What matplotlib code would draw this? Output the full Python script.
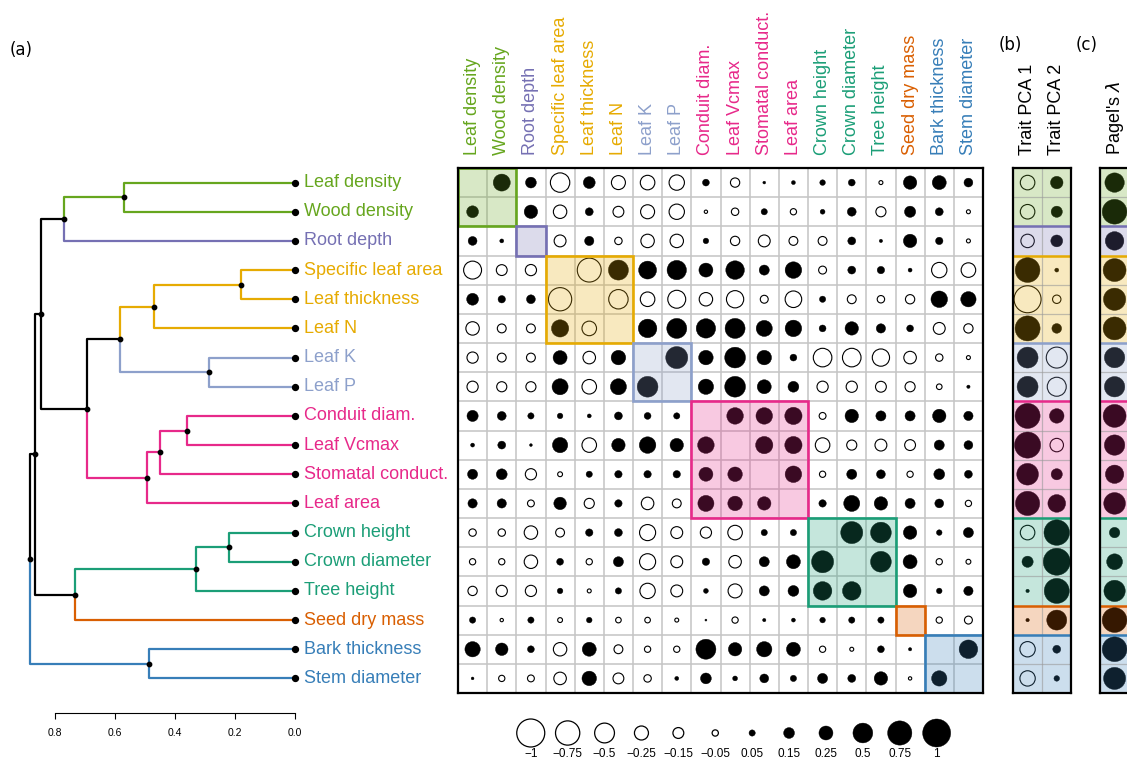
import numpy as np
import matplotlib
matplotlib.use("Agg")
import matplotlib.pyplot as plt
from matplotlib.patches import Circle, Rectangle
from matplotlib.colors import to_rgb

plt.rcParams['font.family'] = ['Liberation Sans', 'DejaVu Sans']

traits = ["Leaf density", "Wood density", "Root depth", "Specific leaf area",
          "Leaf thickness", "Leaf N", "Leaf K", "Leaf P", "Conduit diam.",
          "Leaf Vcmax", "Stomatal conduct.", "Leaf area", "Crown height",
          "Crown diameter", "Tree height", "Seed dry mass", "Bark thickness",
          "Stem diameter"]
groups = [0, 0, 1, 2, 2, 2, 3, 3, 4, 4, 4, 4, 5, 5, 5, 6, 7, 7]
group_colors = ['#66a61e', '#7570b3', '#e6ab02', '#8da0cb',
                '#e7298a', '#1b9e77', '#d95f02', '#377eb8']

nan = np.nan
corr = np.array([
    [nan, .37, .15, -.48, .18, -.25, -.27, -.30, .06, -.11, .01, .02, .04, .06, -.02, .23, .25, .10],
    [.18, nan, .23, -.23, .08, -.15, -.25, -.30, -.014, -.07, .05, -.05, .03, .10, -.13, .16, .08, -.02],
    [.10, .02, nan, -.18, .11, -.07, -.23, -.23, .04, -.11, -.18, -.10, -.10, .08, .014, .23, .07, -.02],
    [-.41, -.15, -.16, nan, -.73, .51, .41, .48, .25, .44, .13, .35, -.08, .08, .07, .02, -.30, -.27],
    [.18, .07, .10, -.69, nan, -.48, -.27, -.41, -.23, -.38, -.08, -.35, .05, -.10, -.07, -.11, .35, .30],
    [-.23, -.10, -.10, .38, -.27, nan, .44, .51, .48, .51, .33, .35, .06, .23, .11, .06, -.18, -.11],
    [-.16, -.10, -.10, .25, -.20, .27, nan, .62, .27, .55, .27, .06, -.44, -.44, -.38, -.20, -.07, -.02],
    [-.16, -.13, -.13, .33, -.27, .33, .55, nan, .30, .55, .25, .15, -.16, -.16, -.15, -.13, -.04, .014],
    [.16, .10, .05, .04, .02, .08, .06, .05, nan, .35, .35, .38, -.06, .23, .13, .13, .23, .11],
    [.02, .08, .01, .30, -.27, .23, .35, .23, .35, nan, .38, .38, -.27, -.13, -.18, -.15, .13, .10],
    [.13, .15, -.16, -.03, .05, .07, .07, .07, .25, .27, nan, .35, -.05, .13, .10, -.05, .15, .08],
    [.11, .11, -.06, .20, -.13, .07, -.20, -.10, .33, .27, .23, nan, .07, .33, .23, .13, .10, -.05],
    [-.07, -.07, -.23, -.10, .07, .08, -.33, -.18, -.16, -.27, .05, .05, nan, .62, .55, .23, .04, .13],
    [-.05, -.05, -.23, .06, -.05, .13, -.33, -.18, .07, -.20, .13, .25, .62, nan, .55, .25, -.05, -.03],
    [-.11, -.16, -.16, .04, -.02, .05, -.30, -.18, .03, -.25, .13, .15, .44, .44, nan, .23, .04, .11],
    [.05, -.014, .05, -.03, .04, -.04, -.04, -.02, .005, -.05, .014, .02, .04, .05, .05, nan, -.05, -.08],
    [.30, .20, .06, -.23, .25, -.10, -.05, -.05, .51, .23, .30, .25, -.05, -.02, .06, .014, nan, .44],
    [.01, -.05, -.06, -.20, .27, -.15, -.07, .02, .15, .03, .10, .05, .13, .08, .23, -.014, .30, nan],
])

pca1 = [-.27, -.27, -.23, .78, -.93, .80, .56, .56, .80, .87, .60, .75, -.27, .16, .015, .015, -.30, -.30]
pca2 = [.20, .16, .18, .02, -.09, .12, -.56, -.46, .27, -.23, .16, .40, .83, .93, .80, .51, .08, .04]
pagel = [.48, .78, .44, .67, .63, .67, .53, .53, .67, .53, .43, .60, .14, .32, .58, .78, .78, .62]

legend_vals = [-1, -0.75, -0.5, -0.25, -0.15, -0.05, 0.05, 0.15, 0.25, 0.5, 0.75, 1]
legend_labels = ["\u22121", "\u22120.75", "\u22120.5", "\u22120.25", "\u22120.15", "\u22120.05",
                 "0.05", "0.15", "0.25", "0.5", "0.75", "1"]

# dendrogram merges (left, right, height); ids >= 18 refer to earlier merges
merges = [(0, 1, 0.57), (18, 2, 0.77), (3, 4, 0.18), (20, 5, 0.47), (6, 7, 0.287),
          (21, 22, 0.583), (8, 9, 0.36), (24, 10, 0.45), (25, 11, 0.493),
          (23, 26, 0.693), (19, 27, 0.847), (12, 13, 0.22), (29, 14, 0.33),
          (30, 15, 0.733), (28, 31, 0.867), (16, 17, 0.487), (32, 33, 0.883)]
dend_ticks = [0.8, 0.6, 0.4, 0.2, 0.0]

W, H = 1127, 760
fig = plt.figure(figsize=(W / 100, H / 100), dpi=100)


def px_axes(x0, y0, x1, y1):
    return fig.add_axes([x0 / W, 1 - y1 / H, (x1 - x0) / W, (y1 - y0) / H])


def dark(c):
    return tuple(0.25 * v for v in to_rgb(c))


def bubble(ax, x, y, r, col, scale=0.48, lw=0.8):
    if np.isnan(r):
        return
    rad = scale * np.sqrt(abs(r))
    if r > 0:
        ax.add_patch(Circle((x, y), rad, facecolor=col, edgecolor=col, lw=0.3, zorder=4))
    else:
        ax.add_patch(Circle((x, y), rad, facecolor='none', edgecolor=col, lw=lw, zorder=4))


def spans():
    out, s = [], 0
    for i in range(1, len(groups) + 1):
        if i == len(groups) or groups[i] != groups[s]:
            out.append((s, i, groups[s]))
            s = i
    return out


n = len(traits)
cell = 525 / 18
top, left = 168, 458

# ---- (a) dendrogram ----
axd = px_axes(20, top, 300, top + 525)
xpx0 = 295
axd.set_xlim((xpx0 - 20) / 300, (xpx0 - 300) / 300)
axd.set_ylim(n, 0)
pos = [i + 0.5 for i in range(n)]
hgt = [0.0] * n
grp = list(groups)
for a, b, h in merges:
    node_y = (pos[a] + pos[b]) / 2
    for c in (a, b):
        col = group_colors[grp[c]] if grp[c] is not None else 'black'
        axd.plot([h, h, hgt[c]], [node_y, pos[c], pos[c]], color=col, lw=1.6,
                 solid_capstyle='butt', zorder=2)
    pos.append(node_y)
    hgt.append(h)
    grp.append(grp[a] if grp[a] == grp[b] else None)
axd.scatter(hgt[n:], pos[n:], s=10, color='black', zorder=3)
axd.scatter(hgt[:n], pos[:n], s=18, color='black', zorder=3)
for i, t in enumerate(traits):
    axd.text(-0.03, i + 0.5, t, color=group_colors[groups[i]], fontsize=13,
             va='center', ha='left')
for s in ('left', 'top', 'right'):
    axd.spines[s].set_visible(False)
axd.spines['bottom'].set_position(('outward', 14.4))
axd.spines['bottom'].set_bounds(0, 0.8)
axd.spines['bottom'].set_linewidth(0.8)
axd.set_yticks([])
axd.set_xticks(dend_ticks)
axd.set_xticklabels([f"{t:.1f}" for t in dend_ticks])
axd.tick_params(axis='x', labelsize=7.5, length=4.5, width=0.8, pad=6)
axd.patch.set_alpha(0)

# ---- correlation matrix ----
axm = px_axes(left, top, left + 525, top + 525)
axm.set_xlim(0, n)
axm.set_ylim(n, 0)
axm.hlines(range(n + 1), 0, n, color='#c4c4c4', lw=1.1, zorder=1)
axm.vlines(range(n + 1), 0, n, color='#c4c4c4', lw=1.1, zorder=1)
for s, e, g in spans():
    axm.add_patch(Rectangle((s, s), e - s, e - s, facecolor=group_colors[g],
                            alpha=0.25, edgecolor='none', zorder=2))
for i in range(n):
    for j in range(n):
        if groups[i] == groups[j]:
            col = dark(group_colors[groups[i]])
        else:
            col = 'black'
        bubble(axm, j + 0.5, i + 0.5, corr[i, j], col)
for s, e, g in spans():
    axm.add_patch(Rectangle((s, s), e - s, e - s, facecolor='none',
                            edgecolor=group_colors[g], lw=1.9, zorder=5))
for j, t in enumerate(traits):
    axm.text(j + 0.5, -0.45, t, rotation=90, ha='center', va='bottom',
             color=group_colors[groups[j]], fontsize=13)
axm.set_xticks([])
axm.set_yticks([])
for sp in axm.spines.values():
    sp.set_linewidth(1.6)
    sp.set_zorder(6)


def side_panel(x0, cols, names):
    k = len(cols)
    ax = px_axes(x0, top, x0 + k * cell, top + 525)
    ax.set_xlim(0, k)
    ax.set_ylim(n, 0)
    for s, e, g in spans():
        ax.add_patch(Rectangle((0, s), k, e - s, facecolor=group_colors[g],
                               alpha=0.25, edgecolor='none', zorder=1))
    ax.hlines(range(n + 1), 0, k, color='#9a9a9a', lw=0.9, alpha=0.6, zorder=2)
    ax.vlines(range(k + 1), 0, n, color='#9a9a9a', lw=0.9, alpha=0.6, zorder=2)
    for s, e, g in spans():
        if s > 0:
            ax.hlines(s, 0, k, color=group_colors[g], lw=1.8, zorder=3)
    for c, vals in enumerate(cols):
        for i, v in enumerate(vals):
            bubble(ax, c + 0.5, i + 0.5, v, dark(group_colors[groups[i]]))
    for c, nm in enumerate(names):
        ax.text(c + 0.5, -0.45, nm, rotation=90, ha='center', va='bottom',
                fontsize=13, color='black')
    ax.set_xticks([])
    ax.set_yticks([])
    for sp in ax.spines.values():
        sp.set_linewidth(1.6)
        sp.set_zorder(6)
    return ax


side_panel(1013, [pca1, pca2], ["Trait PCA 1", "Trait PCA 2"])
side_panel(1100, [pagel], ["Pagel's $\\lambda$"])

# ---- size legend ----
step = 36.9
axl = px_axes(512.3, 708, 512.3 + 12 * step, 760)
axl.set_xlim(0, 12)
axl.set_ylim(52 / step, 0)
axl.axis('off')
for i, (v, lab) in enumerate(zip(legend_vals, legend_labels)):
    bubble(axl, i + 0.5, 25 / step, v, 'black', scale=14 / step, lw=0.9)
    axl.text(i + 0.5, 46 / step, lab, ha='center', va='center', fontsize=8.5)

fig.text(10 / W, 1 - 50 / H, "(a)", fontsize=12, family='DejaVu Sans', va='center')
fig.text(999 / W, 1 - 45 / H, "(b)", fontsize=12, family='DejaVu Sans', va='center')
fig.text(1076 / W, 1 - 45 / H, "(c)", fontsize=12, family='DejaVu Sans', va='center')

fig.savefig("out.png", dpi=100)
